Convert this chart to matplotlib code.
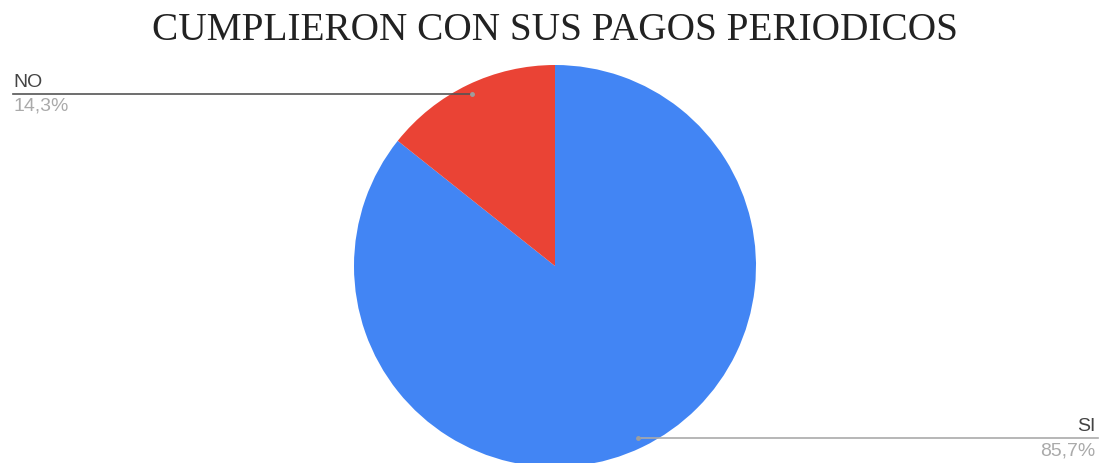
import numpy as np
import matplotlib
matplotlib.use("Agg")
import matplotlib.pyplot as plt

# data
labels = ["SI", "NO"]
values = [85.7, 14.3]
pct_text = ["85,7%", "14,3%"]
colors = ["#4285F4", "#EA4335"]

W, H = 1103, 464
fig = plt.figure(figsize=(W / 100, H / 100), dpi=100, facecolor="white")
ax = fig.add_axes([0, 0, 1, 1])

cx, cy, R = 555, H - 267, 201
wedges, _ = ax.pie(values, colors=colors, startangle=90, counterclock=False,
                   center=(cx, cy), radius=R, frame=True,
                   wedgeprops=dict(linewidth=0))

ax.set_xlim(0, W)
ax.set_ylim(0, H)
ax.set_aspect("equal")
ax.axis("off")

# leader lines + labels
for w, lab, pct in zip(wedges, labels, pct_text):
    mid = np.deg2rad((w.theta1 + w.theta2) / 2)
    px = cx + 0.95 * R * np.cos(mid)
    py = cy + 0.95 * R * np.sin(mid)
    ax.plot([px], [py], "o", ms=2.5, color="#9e9e9e", zorder=5)
    if np.cos(mid) < 0:
        x_end, ha, lc, tx = 13, "left", "#555555", 13
    else:
        x_end, ha, lc, tx = 1098, "right", "#aaaaaa", 1095
    ax.plot([px, x_end], [py, py], color=lc, lw=1.2, zorder=4)
    ax.text(tx, py + 4, lab, ha=ha, va="bottom",
            fontsize=14, color="#444444", family="Liberation Sans")
    ax.text(tx, py - 3, pct, ha=ha, va="top",
            fontsize=14, color="#aaaaaa", family="Liberation Sans")

fig.text(555 / W, 1 - 31 / H, "CUMPLIERON CON SUS PAGOS PERIODICOS",
         ha="center", va="center", fontsize=28.3, family="Liberation Serif",
         color="#222222")

fig.savefig("out.png", dpi=100, facecolor="white")
